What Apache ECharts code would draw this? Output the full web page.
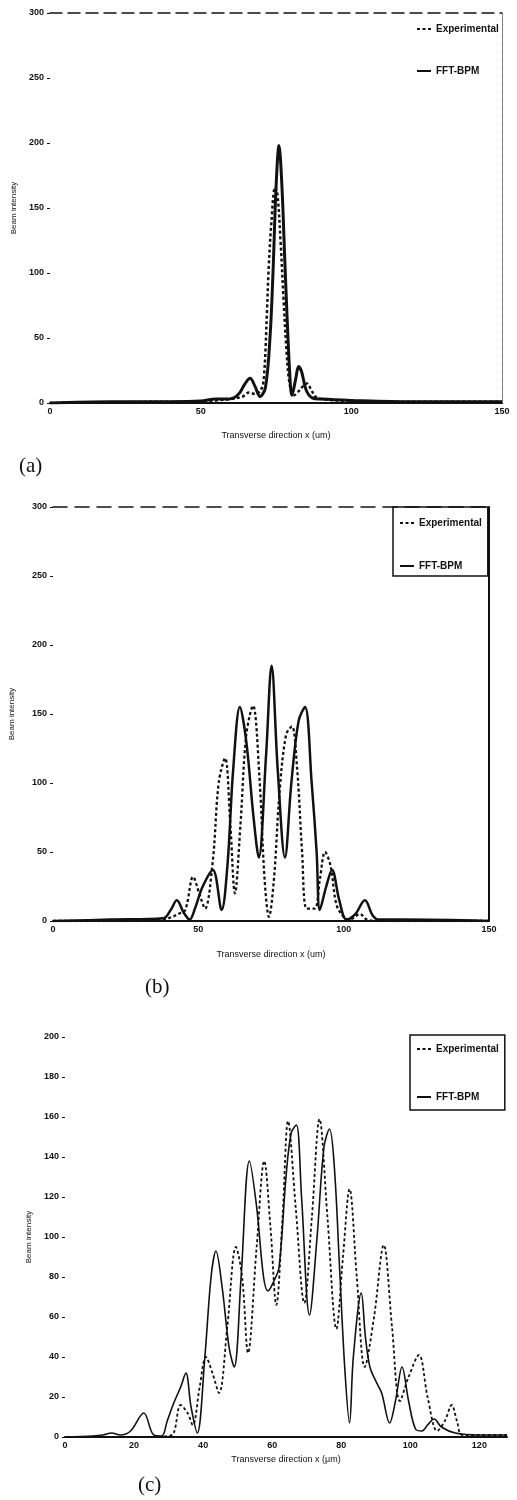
<!DOCTYPE html>
<html>
<head>
<meta charset="utf-8">
<script src="https://cdn.jsdelivr.net/npm/echarts@6/dist/echarts.min.js"></script>
<style>
html,body{margin:0;padding:0;background:#fff;}
#c{width:517px;height:1500px;}
</style>
</head>
<body>
<div id="c"></div>
<script>
// ---------- Panel (a) ----------
const aFftX = [0, 20, 40, 50, 55, 58, 61, 63, 64.5, 66.4, 68, 69.7, 71.5, 73, 74, 75, 76, 77, 78, 79.5, 80.3, 81.5, 82.5, 83.5, 85, 87, 90, 100, 120, 150];
const aFftY = [0, 1, 1, 1.5, 3, 3, 4, 8, 14, 19, 13, 5, 12, 50, 100, 165, 198, 165, 105, 25, 6, 18, 28, 24, 10, 4, 3, 2, 1, 1];
const aExpX = [0, 20, 40, 50, 55, 60, 64, 66, 68, 70, 71, 72, 72.5, 73.5, 74.7, 75.5, 76.5, 77.5, 78.5, 79.5, 81, 82.5, 84, 85.3, 86.5, 88, 90, 100, 120, 150];
const aExpY = [0, 0.5, 1, 1, 2, 3, 5, 8, 7, 10, 20, 70, 100, 140, 166, 160, 125, 80, 40, 15, 6, 9, 13, 15, 11, 5, 3, 1.5, 1, 1];

// ---------- Panel (b) ----------
const bFftX = [0, 20, 38, 40.5, 42.6, 45, 47, 49, 51.5, 55, 58, 60, 62, 64.3, 66.5, 69, 70.8, 73.3, 75.2, 77.3, 79.8, 82, 84.5, 86.7, 89, 90.7, 91.8, 94, 96, 98.5, 101, 104, 107.3, 110, 112, 120, 150];
const bFftY = [0, 1, 2, 8, 15, 6, 1, 10, 25, 37, 8, 40, 110, 155, 130, 75, 46, 120, 185, 110, 46, 100, 145, 155, 100, 50, 8, 25, 37, 15, 1, 5, 15, 4, 1, 1, 0];
const bExpX = [0, 30, 38, 41, 43, 45.5, 48.2, 50.3, 52.3, 55, 57, 59.2, 61, 62.6, 64.5, 66.5, 68.8, 71, 72.8, 74.3, 76, 78, 80.2, 82.2, 84, 85.7, 87.3, 90, 91.8, 93.6, 95.5, 97.5, 100, 102, 105.6, 108, 112, 150];
const bExpY = [0, 0, 1, 3, 5, 8, 32, 20, 9, 44, 100, 118, 70, 20, 70, 135, 156, 105, 30, 3, 30, 95, 135, 141, 110, 50, 9, 9, 30, 50, 40, 12, 3, 1, 5, 1, 0, 0];

// ---------- Panel (c) ----------
const cFftX = [0, 8, 11, 13.5, 16, 19, 22.8, 25.7, 28, 29.6, 31.5, 33.5, 35, 36.5, 38.3, 40.5, 42.3, 43.7, 45.5, 47.5, 49, 51, 53.4, 55.5, 57.5, 58.8, 60.5, 62, 64, 65.5, 67, 68.5, 70.8, 73, 75, 76.6, 78, 79.5, 81, 82.4, 83.5, 85.8, 87, 88.3, 90, 91.7, 94, 95.7, 97.6, 99.5, 101.5, 103.4, 105, 106.9, 109, 113, 120, 128];
const cFftY = [0, 0.5, 1, 2, 1, 3, 12, 1, 0.5, 8, 17, 25, 32, 15, 2, 40, 80, 93, 75, 45, 35, 80, 138, 115, 80, 73, 78, 85, 130, 152, 156, 120, 61, 100, 145, 154, 135, 85, 35, 7, 40, 72, 50, 35, 28, 22, 7, 18, 35, 18, 4, 3, 6, 9, 5, 2, 1, 1];
const cExpX = [0, 25, 30, 31.5, 33.5, 35.5, 37, 39, 40.8, 42.7, 44.6, 47, 49.5, 51.3, 53, 55.5, 57.7, 59.5, 61.2, 63, 64.6, 66.8, 69.3, 71.5, 73.7, 76, 78.6, 80.5, 82.4, 84.5, 86.8, 89.5, 92.3, 94.7, 97, 99.5, 102.5, 105, 107.8, 110, 112, 113.5, 115, 120, 128];
const cExpY = [0, 0, 0.5, 2, 16, 12, 6, 25, 40, 32, 22, 55, 95, 80, 42, 95, 138, 105, 66, 110, 158, 115, 67, 110, 159, 110, 54, 90, 124, 80, 35, 60, 96, 55, 18, 30, 41, 20, 3, 8, 16, 8, 1, 1, 1];

const abTicks = [0, 50, 100, 150];
const cTicks = [0, 20, 40, 60, 80, 100, 120];
const seriesNames = ['Experimental', 'FFT-BPM'];
const xTitleAB = 'Transverse direction x (um)';
const xTitleC = 'Transverse direction x (μm)';
const yTitle = 'Beam intensity';
const panelLabels = ['(a)', '(b)', '(c)'];

const zip = (xs, ys) => xs.map((x, i) => [x, ys[i]]);
const INK = '#111';
const lblFont = { color: INK, fontSize: 9, fontFamily: 'Liberation Sans', fontWeight: 'bold' };

function bottomX(grid, max, interval, ticks, name, gap) {
  return {
    type: 'value', gridIndex: grid, position: 'bottom', min: 0, max: max, interval: interval,
    axisLine: { show: true, onZero: false, lineStyle: { color: INK, width: 2 } },
    axisTick: { show: false },
    splitLine: { show: false },
    axisLabel: Object.assign({}, lblFont, { margin: 4, formatter: v => ticks.indexOf(v) >= 0 ? String(v) : '' }),
    name: name, nameLocation: 'middle', nameGap: gap,
    nameTextStyle: { color: INK, fontSize: 9, fontFamily: 'Liberation Sans' }
  };
}
function topX(grid, max, lineStyle) {
  return {
    type: 'value', gridIndex: grid, position: 'top', min: 0, max: max,
    axisLine: { show: !!lineStyle, onZero: false, lineStyle: lineStyle || {} },
    axisTick: { show: false }, axisLabel: { show: false }, splitLine: { show: false }
  };
}
function leftY(grid, max, interval, gap) {
  return {
    type: 'value', gridIndex: grid, position: 'left', min: 0, max: max, interval: interval,
    axisLine: { show: false, onZero: false },
    axisTick: { show: true, length: 3, lineStyle: { color: INK, width: 1 } },
    splitLine: { show: false },
    axisLabel: Object.assign({}, lblFont, { margin: 6 }),
    name: yTitle, nameLocation: 'middle', nameGap: gap, nameRotate: 90,
    nameTextStyle: { color: INK, fontSize: 8, fontFamily: 'Liberation Sans' }
  };
}
function rightY(grid, max, lineStyle) {
  return {
    type: 'value', gridIndex: grid, position: 'right', min: 0, max: max,
    axisLine: { show: !!lineStyle, onZero: false, lineStyle: lineStyle || {} },
    axisTick: { show: false }, axisLabel: { show: false }, splitLine: { show: false }
  };
}
function line(name, data, xi, yi, dashed, width) {
  return {
    type: 'line', name: name, data: data, xAxisIndex: xi, yAxisIndex: yi,
    smooth: 0.35, showSymbol: false, symbol: 'none', silent: true,
    lineStyle: { color: INK, width: width, type: dashed ? [3, 2.5] : 'solid' },
    itemStyle: { color: INK },
    z: dashed ? 3 : 2
  };
}
function legend(opts) {
  return Object.assign({
    orient: 'vertical', data: seriesNames, itemWidth: 14, itemHeight: 6, itemGap: 36,
    itemStyle: { opacity: 0 },
    textStyle: { color: INK, fontSize: 10, fontFamily: 'Liberation Sans', fontWeight: 'bold' },
    selectedMode: false
  }, opts);
}

const option = {
  backgroundColor: '#fff',
  animation: false,
  title: [
    { text: panelLabels[0], left: 14, top: 451, textStyle: { fontFamily: 'Liberation Serif', fontSize: 21, fontWeight: 'normal', color: INK } },
    { text: panelLabels[1], left: 140, top: 972, textStyle: { fontFamily: 'Liberation Serif', fontSize: 21, fontWeight: 'normal', color: INK } },
    { text: panelLabels[2], left: 133, top: 1470, textStyle: { fontFamily: 'Liberation Serif', fontSize: 21, fontWeight: 'normal', color: INK } }
  ],
  grid: [
    { left: 50, top: 13, width: 452, height: 390 },
    { left: 53, top: 507, width: 436, height: 414 },
    { left: 65, top: 1037, width: 442, height: 400 }
  ],
  legend: [
    legend({ left: 410, top: 22, itemGap: 32, padding: [2, 4, 6, 6] }),
    legend({ left: 393, top: 507, itemGap: 33, padding: [11, 6, 5, 6], borderColor: INK, borderWidth: 1.5 }),
    legend({ left: 410, top: 1035, itemGap: 38, padding: [9, 6, 8, 6], borderColor: INK, borderWidth: 1.5 })
  ],
  xAxis: [
    bottomX(0, 150, 50, abTicks, xTitleAB, 28),
    topX(0, 150, { color: INK, width: 1.5, type: [12, 6] }),
    bottomX(1, 150, 50, abTicks, xTitleAB, 29),
    topX(1, 150, { color: INK, width: 1.5, type: [14, 8] }),
    bottomX(2, 128, 20, cTicks, xTitleC, 18)
  ],
  yAxis: [
    leftY(0, 300, 50, 30),
    rightY(0, 300, { color: '#666', width: 1, type: 'dotted' }),
    leftY(1, 300, 50, 37),
    rightY(1, 300, { color: INK, width: 2 }),
    leftY(2, 200, 20, 32)
  ],
  series: [
    line(seriesNames[0], zip(aExpX, aExpY), 0, 0, true, 2.5),
    line(seriesNames[1], zip(aFftX, aFftY), 0, 0, false, 3),
    line(seriesNames[0], zip(bExpX, bExpY), 2, 2, true, 2.3),
    line(seriesNames[1], zip(bFftX, bFftY), 2, 2, false, 2.5),
    line(seriesNames[0], zip(cExpX, cExpY), 4, 4, true, 1.8),
    line(seriesNames[1], zip(cFftX, cFftY), 4, 4, false, 1.6)
  ]
};

const chart = echarts.init(document.getElementById('c'), null, { renderer: 'canvas' });
chart.setOption(option);
</script>
</body>
</html>
